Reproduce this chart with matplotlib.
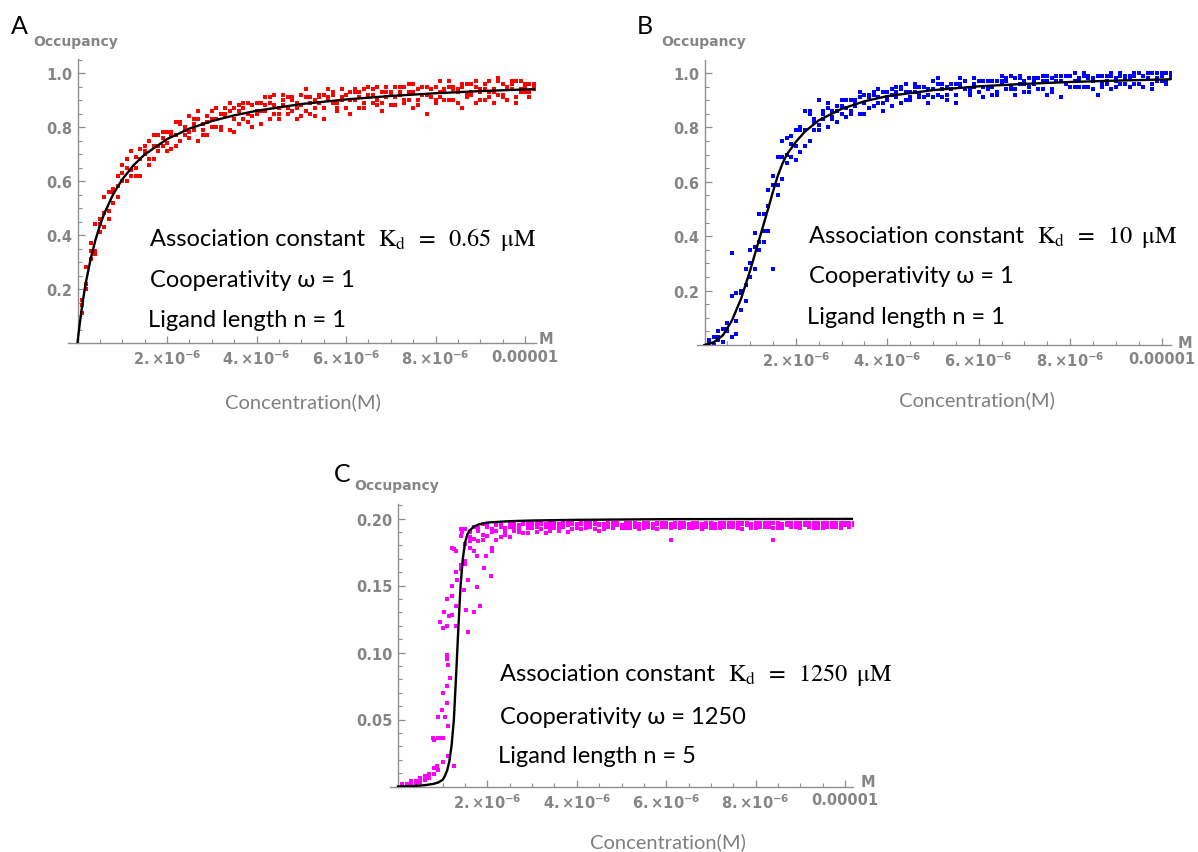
import matplotlib
matplotlib.use('Agg')
import matplotlib.pyplot as plt
from matplotlib.ticker import MultipleLocator
import numpy as np

plt.rcParams['mathtext.fontset'] = 'dejavusans'

# concentration grid (uM) shared by the three simulations
conc_um = [0.1, 0.2, 0.3, 0.4, 0.5, 0.6, 0.7, 0.8, 0.9, 1.0,
           1.1, 1.2, 1.3, 1.4, 1.5, 1.6, 1.7, 1.8, 1.9, 2.0,
           2.1, 2.2, 2.3, 2.4, 2.5, 2.6, 2.7, 2.8, 2.9, 3.0,
           3.1, 3.2, 3.3, 3.4, 3.5, 3.6, 3.7, 3.8, 3.9, 4.0,
           4.1, 4.2, 4.3, 4.4, 4.5, 4.6, 4.7, 4.8, 4.9, 5.0,
           5.1, 5.2, 5.3, 5.4, 5.5, 5.6, 5.7, 5.8, 5.9, 6.0,
           6.1, 6.2, 6.3, 6.4, 6.5, 6.6, 6.7, 6.8, 6.9, 7.0,
           7.1, 7.2, 7.3, 7.4, 7.5, 7.6, 7.7, 7.8, 7.9, 8.0,
           8.1, 8.2, 8.3, 8.4, 8.5, 8.6, 8.7, 8.8, 8.9, 9.0,
           9.1, 9.2, 9.3, 9.4, 9.5, 9.6, 9.7, 9.8, 9.9, 10.0,
           10.1, 10.2]

# panel A occupancy, percent (3 replicates)
a_rep1 = [16, 22, 37, 34, 44, 48, 46, 57, 62, 60, 60, 71, 65, 68, 73, 66, 73, 77, 73, 71,
          78, 82, 75, 80, 78, 83, 75, 81, 84, 80, 87, 80, 85, 89, 83, 81, 87, 85, 84, 89,
          81, 88, 91, 85, 87, 90, 85, 91, 87, 84, 94, 89, 87, 91, 83, 91, 93, 89, 94, 87,
          90, 93, 87, 94, 92, 89, 95, 86, 93, 92, 91, 95, 89, 93, 96, 90, 92, 85, 94, 95,
          91, 94, 97, 90, 93, 95, 92, 96, 89, 94, 96, 91, 93, 98, 91, 95, 96, 89, 97, 93,
          96, 94]
a_rep2 = [11, 28, 31, 33, 46, 54, 49, 56, 54, 66, 65, 64, 62, 72, 70, 68, 77, 71, 76, 78,
          72, 77, 81, 77, 84, 79, 83, 77, 82, 86, 80, 85, 84, 79, 87, 86, 83, 89, 80, 86,
          89, 86, 89, 92, 83, 88, 91, 86, 89, 92, 86, 91, 84, 89, 92, 94, 89, 87, 91, 92,
          85, 94, 91, 89, 95, 92, 88, 93, 91, 88, 95, 93, 90, 96, 87, 94, 92, 95, 91, 89,
          97, 93, 90, 95, 94, 87, 96, 92, 95, 93, 90, 97, 94, 92, 96, 90, 94, 97, 93, 96,
          91, 95]
a_rep3 = [14, 20, 34, 44, 41, 43, 56, 52, 58, 63, 68, 62, 69, 62, 71, 75, 68, 73, 78, 74,
          77, 73, 82, 79, 76, 81, 86, 79, 77, 83, 83, 79, 87, 86, 78, 88, 89, 82, 88, 85,
          86, 91, 83, 88, 85, 92, 87, 90, 83, 88, 91, 85, 90, 92, 87, 90, 92, 86, 90, 87,
          93, 90, 93, 87, 91, 94, 90, 89, 95, 93, 88, 92, 95, 90, 93, 88, 95, 92, 94, 90,
          93, 90, 95, 94, 89, 96, 91, 93, 97, 90, 94, 93, 89, 97, 92, 95, 97, 91, 94, 95,
          93, 96]

# panel B occupancy, percent
b_rep1 = [2, 0, 5, 1, 6, 34, 4, 20, 28, 25, 28, 48, 42, 51, 62, 55, 69, 76, 69, 68,
          80, 86, 75, 83, 81, 86, 80, 86, 88, 85, 90, 86, 89, 93, 89, 87, 92, 91, 89, 93,
          88, 93, 95, 90, 93, 95, 91, 95, 92, 91, 98, 94, 92, 96, 89, 96, 97, 94, 98, 93,
          95, 97, 92, 97, 97, 94, 99, 92, 98, 96, 95, 98, 94, 97, 99, 94, 97, 91, 99, 99,
          95, 98, 100, 95, 97, 99, 96, 99, 94, 98, 100, 96, 98, 99, 96, 99, 100, 94, 100, 97,
          100, 98]
b_rep2 = [0, 3, 2, 1, 8, 18, 9, 19, 16, 35, 36, 38, 38, 57, 28, 59, 75, 67, 74, 79,
          71, 79, 85, 79, 90, 83, 87, 83, 86, 90, 84, 90, 88, 85, 92, 91, 88, 94, 86, 91,
          94, 91, 94, 96, 90, 93, 95, 91, 94, 97, 92, 96, 90, 94, 96, 98, 94, 93, 96, 97,
          91, 97, 95, 93, 99, 97, 94, 98, 96, 93, 98, 97, 94, 99, 92, 98, 97, 99, 96, 95,
          100, 97, 95, 99, 98, 92, 99, 96, 99, 97, 96, 99, 99, 96, 100, 95, 98, 100, 97, 100,
          96, 99]
b_rep3 = [1, 0, 3, 6, 5, 3, 19, 13, 22, 30, 41, 35, 48, 42, 59, 69, 61, 70, 77, 73,
          79, 73, 86, 82, 79, 85, 89, 84, 82, 88, 87, 85, 90, 91, 85, 92, 93, 89, 93, 90,
          92, 95, 89, 93, 91, 96, 92, 95, 89, 94, 96, 91, 95, 96, 92, 95, 97, 92, 95, 93,
          97, 94, 97, 92, 96, 98, 95, 94, 99, 97, 93, 96, 98, 94, 97, 93, 99, 97, 99, 95,
          97, 95, 99, 98, 94, 99, 95, 97, 100, 95, 99, 98, 95, 100, 96, 99, 100, 96, 98, 99,
          97, 100]

# panel C occupancy, per mille
c_rep1 = [1, 2, 2, 3, 4, 5, 7, 9, 12, 36, 95, 150, 176, 187, 181, 190, 185, 193, 188, 194,
          190, 195, 186, 193, 196, 191, 195, 189, 196, 193, 197, 192, 196, 194, 197, 191, 196, 195, 197, 193,
          196, 194, 197, 192, 196, 195, 197, 193, 196, 195, 197, 193, 196, 195, 197, 194, 196, 192, 197, 195,
          196, 197, 193, 196, 195, 197, 194, 196, 197, 193, 196, 195, 197, 194, 196, 197, 192, 196, 195, 197,
          194, 196, 197, 193, 196, 195, 197, 194, 196, 197, 195, 196, 193, 197, 195, 196, 194, 197, 195, 196,
          197, 195]
c_rep2 = [2, 1, 3, 4, 3, 6, 9, 35, 52, 118, 62, 128, 160, 165, 192, 178, 194, 183, 196, 187,
          178, 191, 196, 188, 194, 197, 190, 196, 193, 197, 194, 196, 189, 197, 193, 196, 194, 197, 192, 196,
          197, 193, 195, 197, 191, 196, 194, 197, 195, 193, 196, 197, 194, 196, 193, 197, 195, 196, 194, 197,
          193, 196, 197, 194, 196, 193, 197, 195, 194, 197, 195, 193, 196, 197, 194, 196, 197, 195, 193, 196,
          197, 194, 196, 197, 193, 196, 195, 197, 194, 196, 197, 194, 197, 196, 193, 197, 196, 194, 197, 195,
          196, 197]
c_rep3 = [1, 2, 4, 2, 6, 8, 6, 14, 36, 70, 140, 178, 120, 192, 168, 186, 176, 191, 184, 196,
          192, 184, 194, 190, 186, 194, 192, 197, 189, 194, 190, 197, 194, 191, 196, 194, 197, 190, 196, 194,
          192, 197, 194, 196, 195, 192, 196, 195, 197, 194, 193, 195, 197, 192, 196, 195, 193, 197, 196, 194,
          184, 194, 196, 197, 193, 195, 196, 192, 197, 195, 193, 197, 194, 195, 197, 193, 196, 197, 196, 193,
          196, 197, 194, 184, 197, 193, 196, 195, 197, 193, 196, 197, 195, 193, 197, 194, 197, 196, 193, 197,
          194, 196]
# extra C points in the transition region
c_extra_x = [0.79, 0.91, 0.98, 0.93, 1.02, 1.10, 1.10, 1.12, 1.17, 1.10, 0.98, 1.06, 1.12,
             1.12, 1.25, 1.33, 1.40, 1.47, 1.50, 1.57, 1.53, 1.57, 1.69, 1.84, 1.76, 1.92,
             2.07, 1.44, 1.60, 1.76, 1.96, 2.11, 1.21, 1.29, 1.14, 1.25, 0.88, 1.00]
c_extra_y = [36, 36, 36, 123, 130, 120, 98, 91, 81, 75, 57, 52, 45,
             23, 177, 154, 162, 147, 166, 154, 132, 115, 130, 135, 149, 163,
             157, 190, 183, 172, 172, 176, 142, 135, 127, 15, 15, 18]

# fitted curves
curve_a_x = [0, 0.02, 0.05, 0.1, 0.15, 0.2, 0.3, 0.4, 0.5, 0.6, 0.8, 1.0, 1.25, 1.5, 2.0,
             2.5, 3.0, 3.5, 4.0, 5.0, 6.0, 7.0, 8.0, 9.0, 10.0, 10.2]
curve_a_y = [0, 0.030, 0.071, 0.133, 0.188, 0.235, 0.316, 0.381, 0.435, 0.480, 0.552, 0.606,
             0.658, 0.698, 0.755, 0.794, 0.822, 0.843, 0.860, 0.885, 0.902, 0.915, 0.925,
             0.933, 0.939, 0.940]
curve_b_x = [0, 0.2, 0.4, 0.6, 0.8, 1.0, 1.2, 1.4, 1.5, 1.6, 1.7, 1.8, 2.0, 2.2, 2.5, 3.0,
             3.5, 4.0, 5.0, 6.0, 7.0, 8.0, 9.0, 10.0, 10.2]
curve_b_y = [0, 0.01, 0.035, 0.09, 0.17, 0.275, 0.39, 0.505, 0.565, 0.62, 0.665, 0.70,
             0.747, 0.785, 0.826, 0.868, 0.896, 0.915, 0.937, 0.951, 0.960, 0.967, 0.972,
             0.976, 0.977]
curve_c_x = [0, 0.4, 0.6, 0.8, 0.9, 1.0, 1.05, 1.1, 1.15, 1.2, 1.25, 1.3, 1.35, 1.4, 1.45,
             1.5, 1.55, 1.6, 1.7, 1.8, 2.0, 2.5, 3.0, 4.0, 6.0, 10.2]
curve_c_y = [0, 0.0005, 0.001, 0.002, 0.003, 0.005, 0.008, 0.012, 0.019, 0.031, 0.05, 0.083,
             0.118, 0.150, 0.170, 0.182, 0.188, 0.191, 0.194, 0.1955, 0.197, 0.198, 0.1985,
             0.199, 0.1995, 0.1997]

x_ticks = [2, 4, 6, 8, 10]
x_tick_labels = [r'$\mathbf{2.{\times}10^{-6}}$', r'$\mathbf{4.{\times}10^{-6}}$',
                 r'$\mathbf{6.{\times}10^{-6}}$', r'$\mathbf{8.{\times}10^{-6}}$', '0.00001']
y_ticks_ab = [0.2, 0.4, 0.6, 0.8, 1.0]
y_labels_ab = ['0.2', '0.4', '0.6', '0.8', '1.0']
y_ticks_c = [0.05, 0.10, 0.15, 0.20]
y_labels_c = ['0.05', '0.10', '0.15', '0.20']

W, H = 1198, 853
fig = plt.figure(figsize=(W / 100, H / 100), dpi=100)
AX_GRAY = '#8f8f8f'
LAB_GRAY = '#858585'
TXT_FONT = ['Lato', 'DejaVu Sans']


def px(x, y):
    return x / W, 1 - y / H


def panel(ox, oy, sx, sy, xlo, xhi, ytop):
    left = ox + xlo * sx
    ax = fig.add_axes([left / W, (H - oy) / H, (xhi - xlo) * sx / W, ytop * sy / H])
    ax.set_xlim(xlo, xhi)
    ax.set_ylim(0, ytop)
    ax.patch.set_alpha(0)
    ax.spines['top'].set_visible(False)
    ax.spines['right'].set_visible(False)
    ax.spines['left'].set_position(('data', 0))
    for s in ('left', 'bottom'):
        ax.spines[s].set_color(AX_GRAY)
        ax.spines[s].set_linewidth(1.0)
    ax.tick_params(which='both', direction='in', color=AX_GRAY, labelcolor=LAB_GRAY,
                   labelsize=10.5)
    ax.tick_params(which='major', length=5, width=0.9, pad=4)
    ax.tick_params(which='minor', length=3, width=0.8)
    ax.set_xticks(x_ticks, x_tick_labels, fontweight='bold')
    ax.xaxis.set_minor_locator(MultipleLocator(0.5))
    return ax


def decorate(ax, letter, lpos, occ_pos, m_pos, conc_pos):
    fig.text(*px(*lpos), letter, fontsize=18, family=TXT_FONT, va='center', ha='left')
    fig.text(*px(*occ_pos), 'Occupancy', fontsize=10, fontweight='bold', color=LAB_GRAY,
             ha='center', va='center')
    fig.text(*px(*m_pos), 'M', fontsize=10.5, fontweight='bold', color=LAB_GRAY,
             ha='left', va='center')
    fig.text(*px(*conc_pos), 'Concentration(M)', fontsize=14.5, family=TXT_FONT,
             color='#7f7f7f', ha='center', va='center')


def notes(x, ys, kd, omega, n):
    fig.text(*px(x, ys[0]), 'Association constant', fontsize=17, family=TXT_FONT,
             va='baseline')
    fig.text(*px(x + 228, ys[0]), r'$\mathrm{K_d}\;\;=\;\;' + kd + r'\;\;\mathrm{μM}$',
             fontsize=17.5, math_fontfamily='stix', va='baseline')
    fig.text(*px(x, ys[1]), 'Cooperativity ω = ' + omega, fontsize=17, family=TXT_FONT,
             va='baseline')
    fig.text(*px(x - 2, ys[2]), 'Ligand length n = ' + n, fontsize=17, family=TXT_FONT,
             va='baseline')


dot = dict(ls='none', marker='s', ms=2.8, mew=0)
conc = np.array(conc_um)

# ---- A ----
axA = panel(77.5, 344, 44.75, 270, -0.22, 10.25, 1.052)
for rep in (a_rep1, a_rep2, a_rep3):
    axA.plot(conc, np.array(rep) / 100, color='#ff0000', **dot)
axA.plot(curve_a_x, curve_a_y, color='black', lw=1.7, zorder=3)
axA.set_yticks(y_ticks_ab, y_labels_ab, fontweight='bold')
axA.yaxis.set_minor_locator(MultipleLocator(0.05))
decorate(axA, 'A', (11, 26), (75.5, 42), (539, 339), (303, 402))
notes(150, (246, 287, 327), '0.65', '1', '1')

# ---- B ----
axB = panel(704.5, 346, 45.7, 272, -0.17, 10.2, 1.048)
for rep in (b_rep1, b_rep2, b_rep3):
    axB.plot(conc, np.array(rep) / 100, color='#0000ff', **dot)
axB.plot(curve_b_x, curve_b_y, color='black', lw=1.7, zorder=3)
axB.set_yticks(y_ticks_ab, y_labels_ab, fontweight='bold')
axB.yaxis.set_minor_locator(MultipleLocator(0.05))
decorate(axB, 'B', (637, 26), (703.5, 42), (1178, 343), (977, 400))
notes(809, (243, 283, 324), '10', '1', '1')

# ---- C ----
axC = panel(398, 787.5, 44.7, 1340, -0.18, 10.18, 0.2105)
for rep in (c_rep1, c_rep2, c_rep3):
    axC.plot(conc, np.array(rep) / 1000, color='#ff00ff', **dot)
axC.plot(c_extra_x, np.array(c_extra_y) / 1000, color='#ff00ff', **dot)
axC.plot(curve_c_x, curve_c_y, color='black', lw=1.7, zorder=3)
axC.set_yticks(y_ticks_c, y_labels_c, fontweight='bold')
axC.yaxis.set_minor_locator(MultipleLocator(0.01))
decorate(axC, 'C', (334, 475), (396.5, 486), (861, 783), (668, 842))
notes(500, (681, 724, 763), '1250', '1250', '5')

fig.savefig('out.png', dpi=100)
